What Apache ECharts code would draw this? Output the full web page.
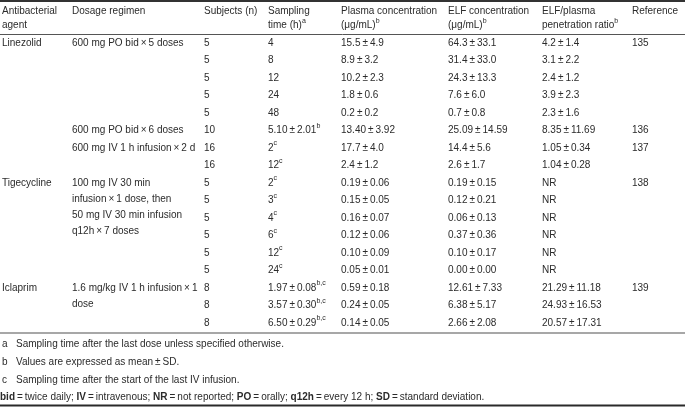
<!DOCTYPE html>
<html>
<head>
<meta charset="utf-8">
<script src="https://cdn.jsdelivr.net/npm/echarts/dist/echarts.min.js"></script>
<style>
  html, body { margin: 0; padding: 0; background: #fff; }
  #table { width: 685px; height: 407px; }
</style>
</head>
<body>
<div id="table"></div>
<script>
// column headers (superscript note after '^')
var headers = ['Antibacterial\nagent', 'Dosage regimen', 'Subjects (n)', 'Sampling\ntime (h)^a',
  'Plasma concentration\n(μg/mL)^b', 'ELF concentration\n(μg/mL)^b', 'ELF/plasma\npenetration ratio^b', 'Reference']

// one entry per table row
var agents = ['Linezolid', '', '', '', '', '', '', '', 'Tigecycline', '', '', '', '', '', 'Iclaprim', '', '']
var regimens = ['600 mg PO bid × 5 doses', '', '', '', '', '600 mg PO bid × 6 doses', '600 mg IV 1 h infusion × 2 d', '',
  '100 mg IV 30 min\ninfusion × 1 dose, then\n50 mg IV 30 min infusion\nq12h × 7 doses', '', '', '', '', '',
  '1.6 mg/kg IV 1 h infusion × 1\ndose', '', '']
var subjects = ['5', '5', '5', '5', '5', '10', '16', '16', '5', '5', '5', '5', '5', '5', '8', '8', '8']
var samplingTime = ['4', '8', '12', '24', '48', '5.10±2.01', '2', '12', '2', '3', '4', '6', '12', '24', '1.97±0.08', '3.57±0.30', '6.50±0.29']
var samplingNote = ['', '', '', '', '', 'b', 'c', 'c', 'c', 'c', 'c', 'c', 'c', 'c', 'b,c', 'b,c', 'b,c']
var plasma = ['15.5±4.9', '8.9±3.2', '10.2±2.3', '1.8±0.6', '0.2±0.2', '13.40±3.92', '17.7±4.0', '2.4±1.2',
  '0.19±0.06', '0.15±0.05', '0.16±0.07', '0.12±0.06', '0.10±0.09', '0.05±0.01', '0.59±0.18', '0.24±0.05', '0.14±0.05']
var elf = ['64.3±33.1', '31.4±33.0', '24.3±13.3', '7.6±6.0', '0.7±0.8', '25.09±14.59', '14.4±5.6', '2.6±1.7',
  '0.19±0.15', '0.12±0.21', '0.06±0.13', '0.37±0.36', '0.10±0.17', '0.00±0.00', '12.61±7.33', '6.38±5.17', '2.66±2.08']
var ratio = ['4.2±1.4', '3.1±2.2', '2.4±1.2', '3.9±2.3', '2.3±1.6', '8.35±11.69', '1.05±0.34', '1.04±0.28',
  'NR', 'NR', 'NR', 'NR', 'NR', 'NR', '21.29±11.18', '24.93±16.53', '20.57±17.31']
var refs = ['135', '', '', '', '', '136', '137', '', '138', '', '', '', '', '', '139', '', '']

var footLetters = ['a', 'b', 'c']
var footTexts = ['Sampling time after the last dose unless specified otherwise.',
  'Values are expressed as mean±SD.',
  'Sampling time after the start of the last IV infusion.']
var abbrevs = [['bid', 'twice daily'], ['IV', 'intravenous'], ['NR', 'not reported'], ['PO', 'orally'],
  ['q12h', 'every 12 h'], ['SD', 'standard deviation']]

// layout
var colX = [2, 72, 204, 268, 341, 448, 542, 632]
var font = '"Liberation Sans", Arial, Helvetica, sans-serif'
var ink = '#2b2b2b'
var rich = {
  sup: { fontSize: 7, lineHeight: 8, verticalAlign: 'top', fontFamily: font, fill: ink, color: ink },
  b: { fontWeight: 'bold', fontSize: 10, fontFamily: font, color: ink, fill: ink }
}

function tight (s) {
  return s.replace(/\s*([±×=])\s*/g, '\u2009$1\u2009')
}
function withSup (s) {
  var parts = s.split('^')
  return parts.length > 1 ? tight(parts[0]) + '{sup|' + parts[1] + '}' : tight(s)
}

var columns = [agents, regimens, subjects, samplingTime, plasma, elf, ratio, refs]
var rowNames = agents.map(function (a, i) { return 'r' + i })
var cells = []
columns.forEach(function (col, c) {
  col.forEach(function (txt, r) {
    if (!txt) return
    var t = tight(txt)
    if (c === 3 && samplingNote[r]) t += '{sup|' + samplingNote[r] + '}'
    cells.push({ value: [colX[c], r], text: t })
  })
})

var graphics = []
// rules
function rule (y, w, color) {
  graphics.push({ type: 'line', shape: { x1: 0, y1: y, x2: 685, y2: y }, style: { stroke: color, lineWidth: w }, silent: true })
}
rule(1, 2, '#333')
rule(34.5, 1, '#555')
rule(333, 1.5, '#8a8a8a')
rule(405.5, 2, '#2a2a2a')

headers.forEach(function (h, c) {
  graphics.push({
    type: 'text', x: colX[c], y: 4,
    style: { text: h.split('\n').map(withSup).join('\n'), font: '10px ' + font, fill: ink, lineHeight: 14, verticalAlign: 'top', rich: rich }
  })
})

var footY = [344, 362, 380]
footLetters.forEach(function (l, i) {
  graphics.push({ type: 'text', x: 2, y: footY[i], style: { text: l, font: '10px ' + font, fill: ink, verticalAlign: 'middle' } })
  graphics.push({ type: 'text', x: 16, y: footY[i], style: { text: tight(footTexts[i]), font: '10px ' + font, fill: ink, verticalAlign: 'middle' } })
})
graphics.push({
  type: 'text', x: 0, y: 397,
  style: {
    text: abbrevs.map(function (a) { return '{b|' + a[0] + '}' + '\u2009=\u2009' + a[1] }).join('; ') + '.',
    font: '10px ' + font, fill: ink, verticalAlign: 'middle', rich: rich
  }
})

var chart = echarts.init(document.getElementById('table'), null, { renderer: 'canvas' })
chart.setOption({
  animation: false,
  backgroundColor: '#fff',
  grid: { left: 0, right: 0, top: 34.25, bottom: 75.25 },
  xAxis: { type: 'value', min: 0, max: 685, show: false },
  yAxis: { type: 'category', data: rowNames, inverse: true, show: false },
  graphic: graphics,
  series: [{
    type: 'custom',
    clip: false,
    data: cells,
    renderItem: function (params, api) {
      var p = api.coord([api.value(0), api.value(1)])
      return {
        type: 'text',
        x: p[0],
        y: p[1] - 8,
        style: {
          text: cells[params.dataIndex].text,
          font: '10px ' + font,
          fill: ink,
          lineHeight: 16,
          verticalAlign: 'top',
          rich: rich
        }
      }
    }
  }]
})
</script>
</body>
</html>
